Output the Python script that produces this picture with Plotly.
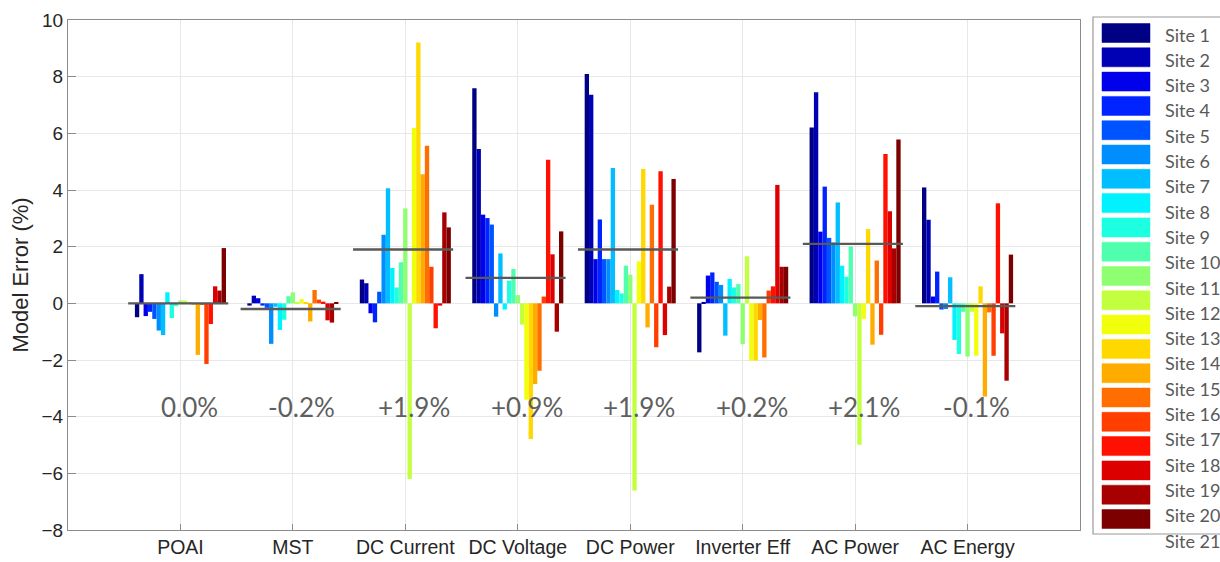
import plotly.graph_objects as go

# ---- data -------------------------------------------------------------
metrics = ["POAI", "MST", "DC Current", "DC Voltage", "DC Power",
           "Inverter Eff", "AC Power", "AC Energy"]

sites = ["Site 1", "Site 2", "Site 3", "Site 4", "Site 5", "Site 6", "Site 7",
         "Site 8", "Site 9", "Site 10", "Site 11", "Site 12", "Site 13",
         "Site 14", "Site 15", "Site 16", "Site 17", "Site 18", "Site 19",
         "Site 20", "Site 21"]

# model error (%) per site, one list per quantity
poai = [-0.49, 1.03, -0.45, -0.30, -0.55, -0.96, -1.12, 0.39, -0.52, -0.10, 0.10,
        0.10, 0.05, -0.05, -1.82, -0.05, -2.14, -0.73, 0.60, 0.45, 1.95]
mst = [-0.08, 0.27, 0.18, -0.08, -0.16, -1.43, -0.12, -0.94, -0.58, 0.25, 0.39,
       0.05, 0.15, 0.02, -0.64, 0.47, 0.13, 0.06, -0.60, -0.68, 0.03]
dc_current = [0.84, 0.71, -0.35, -0.67, 0.41, 2.42, 4.06, 1.25, 0.56, 1.45, 3.35,
              -6.20, 6.19, 9.21, 4.56, 5.56, 1.29, -0.88, -0.08, 3.21, 2.68]
dc_voltage = [7.59, 5.45, 3.13, 3.01, 2.78, -0.47, 1.76, -0.22, 0.80, 1.21, 0.29,
              -0.75, -3.40, -4.79, -2.85, -2.38, 0.24, 5.07, 1.73, -1.00, 2.54]
dc_power = [8.09, 7.36, 1.56, 2.96, 1.56, 1.56, 4.78, 0.47, 0.35, 1.33, 1.01,
            -6.61, 1.48, 4.74, -0.85, 3.48, -1.55, 4.66, -1.12, 0.59, 4.39]
inverter_eff = [-1.73, 0.05, 0.98, 1.09, 0.76, 0.65, -1.14, 0.86, 0.56, 0.68, -1.44,
                1.66, -2.02, -2.02, -0.59, -1.91, 0.45, 0.60, 4.18, 1.29, 1.29]
ac_power = [6.21, 7.45, 2.53, 4.12, 2.31, 2.15, 3.56, 1.33, 0.94, 2.01, -0.46,
            -4.99, -0.55, 2.62, -1.46, 1.51, -1.11, 5.27, 3.25, 1.94, 5.78]
ac_energy = [4.09, 2.95, 0.24, 1.12, -0.22, -0.20, 0.92, -1.29, -1.79, -0.30, -1.88,
             -0.30, -1.85, 0.60, -3.29, -0.32, -1.85, 3.53, -1.06, -2.73, 1.72]

# overall error per quantity (drawn as a bar and printed below the group)
mean_error = [0.0, -0.2, 1.9, 0.9, 1.9, 0.2, 2.1, -0.1]

# ---- styling ----------------------------------------------------------
site_colors = ["#000085", "#0000B4", "#0000EA", "#0024FF", "#0054FF", "#008EFF",
               "#00BEFF", "#00F2FF", "#1CFFE0", "#50FFAE", "#8EFF70", "#C2FF3E",
               "#F2FF0C", "#FFD800", "#FFAC00", "#FF6E00", "#FF3E00", "#FF1000",
               "#DC0000", "#A80000", "#7C0000"]

TICK_FONT = dict(family="Liberation Sans, Arial, sans-serif", size=19.5, color="#262626")
NOTE_FONT = dict(family="Lato, sans-serif", size=26, color="#5F5F5F")
LEGEND_FONT = dict(family="Lato, sans-serif", size=18, color="#595959")

W, H = 1220, 562
L, R, T, B = 68, 1080, 20, 530          # plot-area edges in pixels

series = [poai, mst, dc_current, dc_voltage, dc_power, inverter_eff, ac_power, ac_energy]
xpos = list(range(1, len(metrics) + 1))

fig = go.Figure()

# one bar trace per site, grouped under each quantity
for k, (name, color) in enumerate(zip(sites, site_colors)):
    fig.add_trace(go.Bar(
        x=xpos,
        y=[vals[k] for vals in series],
        name=name,
        marker=dict(color=color, line=dict(width=0)),
        showlegend=False,
    ))

# horizontal bar at the overall error of each group
for p, m in zip(xpos, mean_error):
    fig.add_trace(go.Scatter(
        x=[p - 0.465, p + 0.425], y=[m, m],
        mode="lines",
        line=dict(color="#595959", width=2.4),
        showlegend=False, hoverinfo="skip",
    ))

# overall error printed below each group
for p, m in zip(xpos, mean_error):
    txt = ("+" if m > 0 else "") + f"{m:.1f}%"
    fig.add_annotation(x=p, y=-3.65, xref="x", yref="y", text=txt,
                       showarrow=False, xshift=9, font=NOTE_FONT)


# ---- hand-built legend to the right of the axes ---------------------------
def px_x(v):
    return (v - L) / (R - L)


def px_y(v):
    return (B - v) / (B - T)


shapes = [dict(type="rect", xref="paper", yref="paper",
               x0=px_x(1093), x1=px_x(1240), y0=px_y(534), y1=px_y(17),
               line=dict(color="#9A9A9A", width=1.2), fillcolor="rgba(0,0,0,0)",
               layer="above")]
for k, (name, color) in enumerate(zip(sites, site_colors)):
    cy = 33 + 24.3 * k
    shapes.append(dict(type="rect", xref="paper", yref="paper",
                       x0=px_x(1102), x1=px_x(1150),
                       y0=px_y(cy + 9.5), y1=px_y(cy - 9.5),
                       line=dict(color=color, width=0.5), fillcolor=color,
                       layer="above"))
    fig.add_annotation(xref="paper", yref="paper", x=px_x(1163),
                       y=px_y(34.5 + 25.3 * k), text=name, showarrow=False,
                       xanchor="left", yanchor="middle", font=LEGEND_FONT)

fig.update_layout(
    width=W, height=H,
    margin=dict(l=L, r=W - R, t=T, b=H - B, autoexpand=False),
    paper_bgcolor="white", plot_bgcolor="white",
    barmode="group", bargap=0.19, bargroupgap=0,
    showlegend=False,
    shapes=shapes,
)

fig.update_xaxes(
    range=[0, 9], tickmode="array", tickvals=xpos, ticktext=metrics,
    showgrid=True, gridcolor="#E8E8E8", gridwidth=1,
    showline=True, linecolor="#8C8C8C", linewidth=1, mirror=True,
    ticks="inside", ticklen=6, tickcolor="#8C8C8C",
    tickfont=TICK_FONT, ticklabelstandoff=0,
    zeroline=False, automargin=False,
)
fig.update_yaxes(
    range=[-8, 10], tickmode="linear", tick0=-8, dtick=2,
    showgrid=True, gridcolor="#E8E8E8", gridwidth=1,
    showline=True, linecolor="#8C8C8C", linewidth=1, mirror=True,
    ticks="inside", ticklen=8, tickcolor="#8C8C8C",
    tickfont=dict(family="Liberation Sans, Arial, sans-serif", size=19, color="#262626"),
    zeroline=False, automargin=False,
    title=dict(text="Model Error (%)", standoff=6,
               font=dict(family="Liberation Sans, Arial, sans-serif", size=22,
                         color="#262626")),
)

fig.write_html("out.html")
